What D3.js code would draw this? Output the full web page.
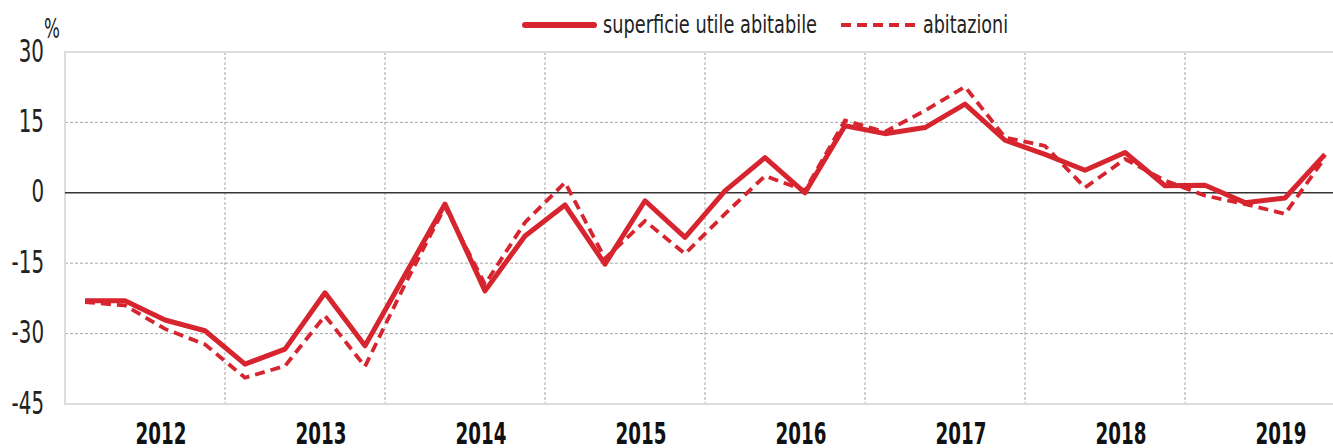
<!DOCTYPE html>
<html>
<head>
<meta charset="utf-8">
<script src="https://d3js.org/d3.v7.min.js"></script>
<style>
  body { margin: 0; background: #fff; }
  svg text { font-family: "Liberation Sans Narrow", "Arial Narrow", "DejaVu Sans", sans-serif; }
</style>
</head>
<body>
<div id="chart"></div>
<script>
// quarterly data, 2012 Q1 - 2019 Q4 (% change)
var years = ["2012", "2013", "2014", "2015", "2016", "2017", "2018", "2019"];
var superficie = [-23.0, -23.0, -27.1, -29.4, -36.5, -33.3, -21.3, -32.6,
                  -17.5, -2.4, -20.9, -9.2, -2.6, -15.2, -1.7, -9.5,
                  0.4, 7.5, 0.0, 14.3, 12.6, 13.9, 18.9, 11.2,
                  8.2, 4.8, 8.6, 1.5, 1.6, -2.1, -1.1, 8.2];
var abitazioni = [-23.3, -24.0, -29.0, -32.3, -39.4, -36.9, -26.2, -37.0,
                  -19.5, -3.0, -19.5, -6.3, 2.2, -14.0, -6.0, -13.0,
                  -4.5, 3.6, 0.5, 15.4, 13.0, 17.5, 22.6, 11.8,
                  10.0, 1.1, 7.2, 2.6, -0.6, -2.4, -4.5, 7.5];
var yTicks = [-45, -30, -15, 0, 15, 30];
var legendLabels = ["superficie utile abitabile", "abitazioni"];

var W = 1333, H = 448;
var mLeft = 65, mRight = 1345, mTop = 52, mBottom = 404;
var red = "#d7252f";

var svg = d3.select("#chart").append("svg")
    .attr("width", W)
    .attr("height", H);

var quarters = d3.range(superficie.length);
var x = d3.scaleBand().domain(quarters).range([mLeft, mRight]);
var xYear = d3.scaleBand().domain(years).range([mLeft, mRight]);
var y = d3.scaleLinear().domain([-45, 30]).range([mBottom, mTop]);

// horizontal grid
svg.append("g").selectAll("line")
    .data(yTicks.filter(function(d) { return d != 0 && d != 30 && d != -45; }))
    .enter().append("line")
    .attr("x1", mLeft).attr("x2", mRight)
    .attr("y1", function(d) { return y(d); })
    .attr("y2", function(d) { return y(d); })
    .attr("stroke", "#a6a6a6")
    .attr("stroke-width", 1)
    .attr("stroke-dasharray", "3,2");

// vertical grid at year boundaries
svg.append("g").selectAll("line")
    .data(years.slice(1))
    .enter().append("line")
    .attr("x1", function(d) { return xYear(d); })
    .attr("x2", function(d) { return xYear(d); })
    .attr("y1", mTop).attr("y2", mBottom)
    .attr("stroke", "#a6a6a6")
    .attr("stroke-width", 1)
    .attr("stroke-dasharray", "3,2");

// plot border
svg.append("path")
    .attr("d", "M" + mRight + "," + mTop + "H" + mLeft + "V" + mBottom + "H" + mRight)
    .attr("fill", "none")
    .attr("stroke", "#dcdcdc")
    .attr("stroke-width", 2);

// zero line
svg.append("line")
    .attr("x1", mLeft).attr("x2", mRight)
    .attr("y1", y(0)).attr("y2", y(0))
    .attr("stroke", "#333")
    .attr("stroke-width", 1.5);

// y labels (squeezed to look like a narrow face)
svg.append("g").selectAll("text")
    .data(yTicks)
    .enter().append("text")
    .attr("transform", function(d) { return "translate(44," + (y(d) + 9.5) + ") scale(0.62,1)"; })
    .attr("text-anchor", "end")
    .attr("font-size", "32px")
    .attr("fill", "#222")
    .text(function(d) { return d; });

svg.append("text")
    .attr("transform", "translate(44,38) scale(0.62,1)")
    .attr("font-size", "27px")
    .attr("fill", "#222")
    .text("%");

// year labels
svg.append("g").selectAll("text")
    .data(years)
    .enter().append("text")
    .attr("transform", function(d) { return "translate(" + (xYear(d) + 96) + ",444) scale(0.61,1)"; })
    .attr("text-anchor", "middle")
    .attr("font-size", "30px")
    .attr("font-weight", "bold")
    .attr("fill", "#111")
    .text(function(d) { return d; });

var line = d3.line()
    .x(function(d, i) { return x(i) + x.bandwidth() / 2; })
    .y(function(d) { return y(d); });

svg.append("path")
    .datum(abitazioni)
    .attr("d", line)
    .attr("fill", "none")
    .attr("stroke", red)
    .attr("stroke-width", 3.8)
    .attr("stroke-dasharray", "10,6");

svg.append("path")
    .datum(superficie)
    .attr("d", line)
    .attr("fill", "none")
    .attr("stroke", red)
    .attr("stroke-width", 5)
    .attr("stroke-linejoin", "round");

// legend
svg.append("line")
    .attr("x1", 525).attr("x2", 594).attr("y1", 25).attr("y2", 25)
    .attr("stroke", red).attr("stroke-width", 6).attr("stroke-linecap", "round");
svg.append("text")
    .attr("x", 603).attr("y", 33)
    .attr("font-size", "24px").attr("fill", "#222")
    .attr("textLength", 214).attr("lengthAdjust", "spacingAndGlyphs")
    .text(legendLabels[0]);

svg.append("line")
    .attr("x1", 841).attr("x2", 915).attr("y1", 25).attr("y2", 25)
    .attr("stroke", red).attr("stroke-width", 4).attr("stroke-dasharray", "10,6");
svg.append("text")
    .attr("x", 923).attr("y", 33)
    .attr("font-size", "24px").attr("fill", "#222")
    .attr("textLength", 85).attr("lengthAdjust", "spacingAndGlyphs")
    .text(legendLabels[1]);
</script>
</body>
</html>
